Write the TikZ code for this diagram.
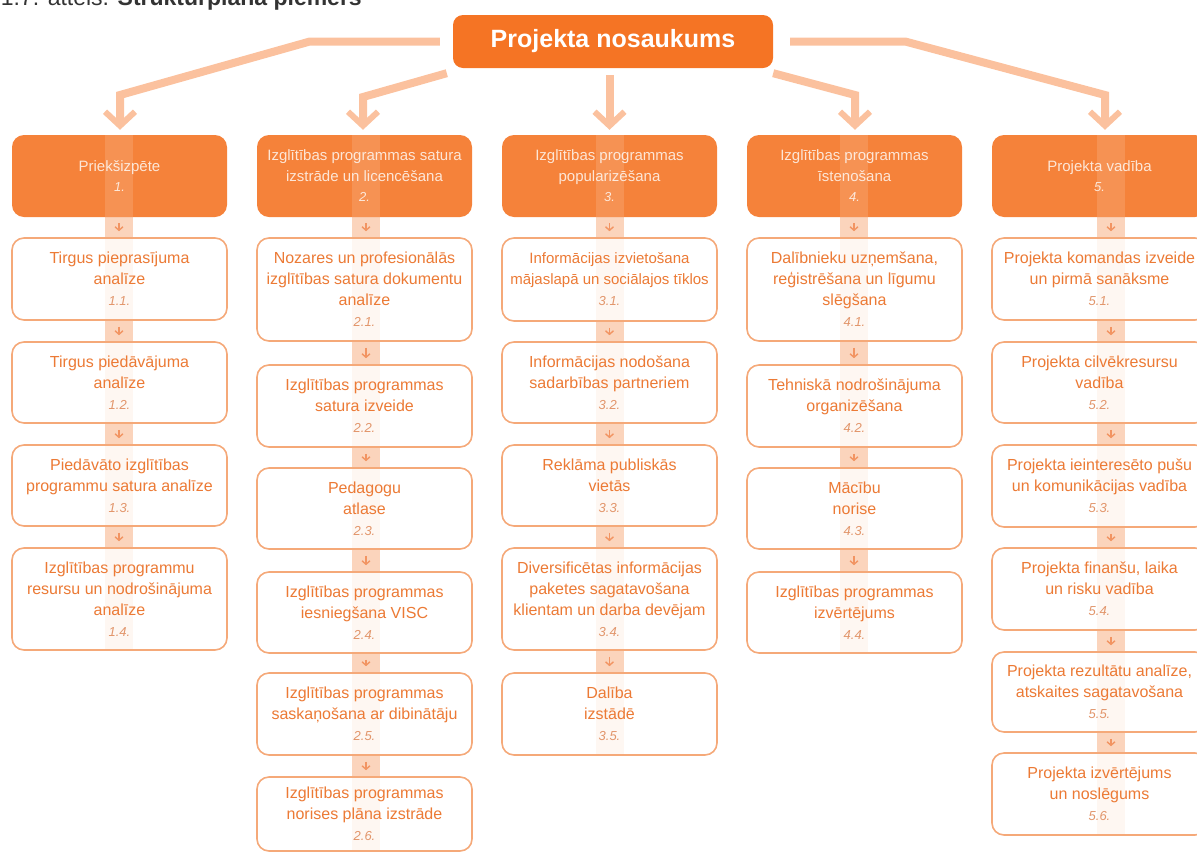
\documentclass[tikz,border=0pt]{standalone}
\usepackage{fontspec}
\setmainfont{Liberation Sans}
\usetikzlibrary{arrows.meta}

\definecolor{capcol}{HTML}{333333}
\definecolor{titleor}{HTML}{F57424}
\definecolor{heador}{HTML}{F5823A}
\definecolor{headtxt}{HTML}{FDE6D6}
\definecolor{subline}{HTML}{F5A979}
\definecolor{subtxt}{HTML}{EC7A35}
\definecolor{numtxt}{HTML}{E2956A}
\definecolor{bandcol}{HTML}{FBD4BC}
\definecolor{conncol}{HTML}{FBC19E}
\definecolor{gaparr}{HTML}{F29462}

\pgfdeclarelayer{background}
\pgfsetlayers{background,main}

% italic item number below a box text
\newcommand{\nm}[1]{{\fontsize{13}{21}\selectfont\itshape\color{numtxt}#1}}
\newcommand{\hn}[1]{{\fontsize{13}{20}\selectfont\itshape #1}}
% sub-task box: [extra style], name, centre x, top y, bottom y, text
\newcommand{\cell}[6][]{\node[subbox, minimum height={#5-#4}, #1] (#2) at (#3,{(#4+#5)/2}) {#6};}

\begin{document}
\begin{tikzpicture}[x=1pt,y=-1pt,
  titlebox/.style={rounded corners=10pt, fill=titleor, text=white,
    minimum width=320pt, minimum height=53pt, inner sep=0pt,
    font=\fontsize{25}{29}\selectfont\bfseries},
  headbox/.style={rounded corners=12pt, fill=heador, text=headtxt,
    minimum width=215pt, minimum height=82pt, inner sep=0pt, align=center,
    font=\fontsize{15}{20.5}\selectfont},
  subbox/.style={rounded corners=12pt, draw=subline, line width=1.6pt,
    fill=white, fill opacity=0.82, text opacity=1, text=subtxt,
    minimum width=215pt, inner sep=0pt, align=center,
    font=\fontsize{16}{21}\selectfont},
  narrow/.style={font=\fontsize{15}{21}\selectfont},
  conn/.style={draw=conncol, line width=8pt, shorten >=5pt,
    -{Straight Barb[length=14pt,width=30pt,line width=6pt]}},
  gap/.style={draw=gaparr, line width=1.4pt, shorten <=6pt, shorten >=6pt,
    -{Straight Barb[length=3.5pt,width=8pt,line width=1.4pt]}},
  band/.style={fill=bandcol},
]
\useasboundingbox (0,0) rectangle (1197,852);

% caption
\node[anchor=base east, inner sep=0pt, text=capcol,
  font=\fontsize{23}{27}\selectfont] (cap) at (362,5)
  {1.7. attēls. \textbf{Struktūrplāna piemērs}};

% project title
\node[titlebox] (title) at (613,41.5) {Projekta nosaukums};

% work package heads
\node[headbox] (h1) at (119.5,176) {Priekšizpēte\\\hn{1.}};
\node[headbox] (h2) at (364.5,176) {Izglītības programmas satura\\izstrāde un licencēšana\\\hn{2.}};
\node[headbox] (h3) at (609.5,176) {Izglītības programmas\\popularizēšana\\\hn{3.}};
\node[headbox] (h4) at (854.5,176) {Izglītības programmas\\īstenošana\\\hn{4.}};
\node[headbox] (h5) at (1099.5,176) {Projekta vadība\\\hn{5.}};

% column 1
\cell{s11}{119.5}{238}{320}{Tirgus pieprasījuma\\analīze\\\nm{1.1.}}
\cell{s12}{119.5}{342}{423}{Tirgus piedāvājuma\\analīze\\\nm{1.2.}}
\cell{s13}{119.5}{445}{526}{Piedāvāto izglītības\\programmu satura analīze\\\nm{1.3.}}
\cell{s14}{119.5}{548}{650}{Izglītības programmu\\resursu un nodrošinājuma\\analīze\\\nm{1.4.}}

% column 2
\cell{s21}{364.5}{238}{341}{Nozares un profesionālās\\izglītības satura dokumentu\\analīze\\\nm{2.1.}}
\cell{s22}{364.5}{365}{447}{Izglītības programmas\\satura izveide\\\nm{2.2.}}
\cell{s23}{364.5}{468}{549}{Pedagogu\\atlase\\\nm{2.3.}}
\cell{s24}{364.5}{572}{653}{Izglītības programmas\\iesniegšana VISC\\\nm{2.4.}}
\cell{s25}{364.5}{673}{755}{Izglītības programmas\\saskaņošana ar dibinātāju\\\nm{2.5.}}
\cell{s26}{364.5}{777}{851}{Izglītības programmas\\norises plāna izstrāde\\\nm{2.6.}}

% column 3
\cell[narrow]{s31}{609.5}{238}{321}{Informācijas izvietošana\\mājaslapā un sociālajos tīklos\\\nm{3.1.}}
\cell{s32}{609.5}{342}{423}{Informācijas nodošana\\sadarbības partneriem\\\nm{3.2.}}
\cell{s33}{609.5}{445}{526}{Reklāma publiskās\\vietās\\\nm{3.3.}}
\cell{s34}{609.5}{548}{650}{Diversificētas informācijas\\paketes sagatavošana\\klientam un darba devējam\\\nm{3.4.}}
\cell{s35}{609.5}{673}{755}{Dalība\\izstādē\\\nm{3.5.}}

% column 4
\cell{s41}{854.5}{238}{341}{Dalībnieku uzņemšana,\\reģistrēšana un līgumu\\slēgšana\\\nm{4.1.}}
\cell{s42}{854.5}{365}{447}{Tehniskā nodrošinājuma\\organizēšana\\\nm{4.2.}}
\cell{s43}{854.5}{468}{549}{Mācību\\norise\\\nm{4.3.}}
\cell{s44}{854.5}{572}{653}{Izglītības programmas\\izvērtējums\\\nm{4.4.}}

% column 5
\cell{s51}{1099.5}{238}{320}{Projekta komandas izveide\\un pirmā sanāksme\\\nm{5.1.}}
\cell{s52}{1099.5}{342}{423}{Projekta cilvēkresursu\\vadība\\\nm{5.2.}}
\cell{s53}{1099.5}{445}{527}{Projekta ieinteresēto pušu\\un komunikācijas vadība\\\nm{5.3.}}
\cell{s54}{1099.5}{548}{630}{Projekta finanšu, laika\\un risku vadība\\\nm{5.4.}}
\cell{s55}{1099.5}{652}{732}{Projekta rezultātu analīze,\\atskaites sagatavošana\\\nm{5.5.}}
\cell{s56}{1099.5}{753}{835}{Projekta izvērtējums\\un noslēgums\\\nm{5.6.}}

% vertical bands behind each column, and their light trace over the heads
\begin{pgfonlayer}{background}
  \foreach \h/\last/\dx in {h1/s14/-0.5, h2/s26/1.5, h3/s35/0, h4/s44/-0.5, h5/s56/11.5}{
    \fill[band] ([xshift=\dx pt-14pt]\h.north) rectangle ([xshift=\dx pt+14pt]\last.south);
  }
\end{pgfonlayer}
\foreach \h/\dx in {h1/-0.5, h2/1.5, h3/0, h4/-0.5, h5/11.5}{
  \fill[white, opacity=0.13] ([xshift=\dx pt-14pt]\h.north) rectangle ([xshift=\dx pt+14pt]\h.south);
}

% small arrows between consecutive boxes of a column
\foreach \a/\b/\dx in {h1/s11/-0.5, s11/s12/-0.5, s12/s13/-0.5, s13/s14/-0.5,
  h2/s21/1.5, s21/s22/1.5, s22/s23/1.5, s23/s24/1.5, s24/s25/1.5, s25/s26/1.5,
  h3/s31/0, s31/s32/0, s32/s33/0, s33/s34/0, s34/s35/0,
  h4/s41/-0.5, s41/s42/-0.5, s42/s43/-0.5, s43/s44/-0.5,
  h5/s51/11.5, s51/s52/11.5, s52/s53/11.5, s53/s54/11.5, s54/s55/11.5, s55/s56/11.5}{
  \draw[gap] ([xshift=\dx pt]\a.south) -- ([xshift=\dx pt]\b.north);
}

% connectors from the title to the heads
\coordinate (lvlA) at (0,95);
\coordinate (lvlB) at (0,97);
\draw[conn] ([xshift=-13pt]title.west) -- ([xshift=-143pt]title.west)
  -- ([xshift=0.5pt]h1.north |- lvlA) -- ([xshift=0.5pt]h1.north);
\draw[conn] ([shift={(-6,5)}]title.south west) -- ([xshift=-1.5pt]h2.north |- lvlB)
  -- ([xshift=-1.5pt]h2.north);
\draw[conn] ([shift={(-3.5,7)}]title.south) -- (h3.north);
\draw[conn] ([shift={(0,5)}]title.south east) -- ([xshift=0.5pt]h4.north |- lvlA)
  -- ([xshift=0.5pt]h4.north);
\draw[conn] ([xshift=17pt]title.east) -- ([xshift=132pt]title.east)
  -- ([xshift=5.5pt]h5.north |- lvlA) -- ([xshift=5.5pt]h5.north);
\end{tikzpicture}
\end{document}
